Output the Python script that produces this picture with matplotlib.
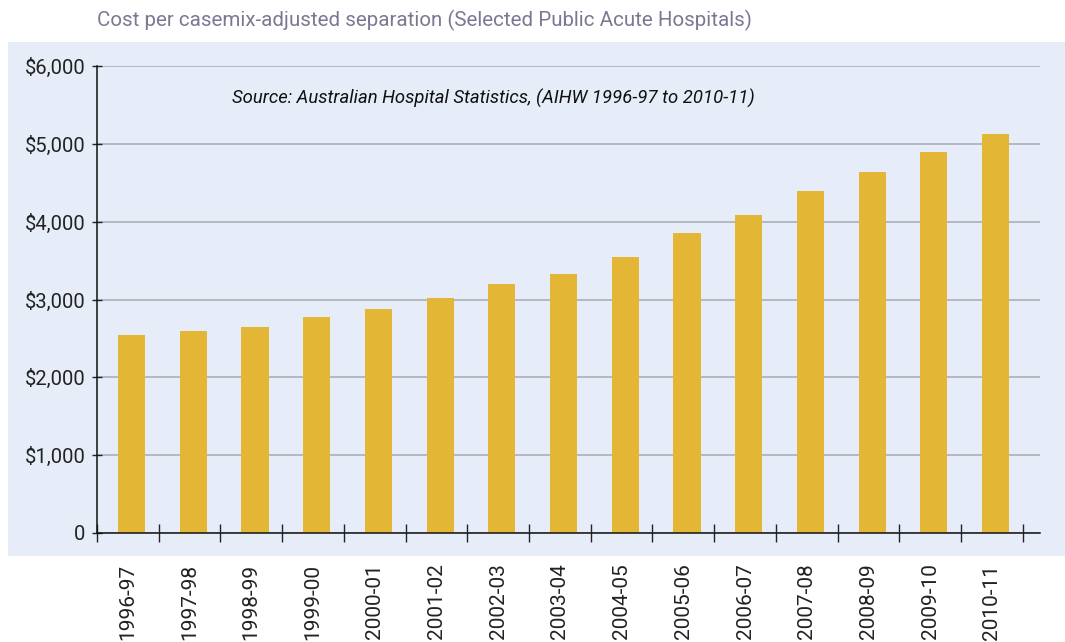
import matplotlib.pyplot as plt
from matplotlib.patches import Rectangle
from matplotlib.ticker import FuncFormatter

years = ['1996-97', '1997-98', '1998-99', '1999-00', '2000-01', '2001-02', '2002-03',
         '2003-04', '2004-05', '2005-06', '2006-07', '2007-08', '2008-09', '2009-10', '2010-11']
cost = [2545, 2596, 2648, 2776, 2879, 3020, 3200, 3330, 3548, 3856, 4088, 4396, 4640, 4897, 5128]

plt.rcParams['font.family'] = ['Roboto', 'DejaVu Sans']

fig = plt.figure(figsize=(10.65, 6.42), dpi=100)
W, H = 1065, 642

# light panel behind the plot
fig.patches.append(Rectangle((8 / W, 1 - 556 / H), 1 - 8 / W, (556 - 42) / H,
                             transform=fig.transFigure, facecolor='#e6ecf8',
                             edgecolor='none', zorder=-10))

ax = fig.add_axes([97 / W, 1 - 533 / H, (1040 - 97) / W, (533 - 66) / H])
ax.set_facecolor('none')

x = list(range(len(years)))
ax.bar([i + 0.06 for i in x], cost, width=0.44, color='#e4b636', zorder=2)

ax.set_xlim(-0.5, 14.78)
ax.set_ylim(0, 6000)
ax.set_yticks(range(0, 6001, 1000))
ax.yaxis.set_major_formatter(FuncFormatter(lambda v, p: '0' if v == 0 else f'${v:,.0f}'))
ax.grid(axis='y', color='#a8aab2', linewidth=1.1, zorder=1)

ax.set_xticks([i - 0.5 for i in range(len(years) + 1)])
ax.set_xticklabels([])
ax.set_xticks(x, minor=True)
ax.set_xticklabels(years, minor=True, rotation=90, fontsize=15, color='#222222')
ax.tick_params(axis='x', which='major', direction='inout', length=13, width=1, color='#222222')
ax.tick_params(axis='x', which='minor', length=0, pad=22)
ax.tick_params(axis='y', direction='inout', length=6.5, width=1, color='#222222',
               labelsize=14.5, labelcolor='#222222', pad=5)

for s in ['top', 'right']:
    ax.spines[s].set_visible(False)
for s in ['left', 'bottom']:
    ax.spines[s].set_color('#111111')
    ax.spines[s].set_linewidth(1.1)

fig.text(97 / W, 1 - 20 / H, 'Cost per casemix-adjusted separation (Selected Public Acute Hospitals)',
         fontsize=14.8, color='#7b7893', va='center', ha='left')
ax.text(0.143, 0.93, 'Source: Australian Hospital Statistics, (AIHW 1996-97 to 2010-11)',
        transform=ax.transAxes, fontsize=13.3, style='italic', color='#111111', va='center')

fig.savefig('out.png', dpi=100)
